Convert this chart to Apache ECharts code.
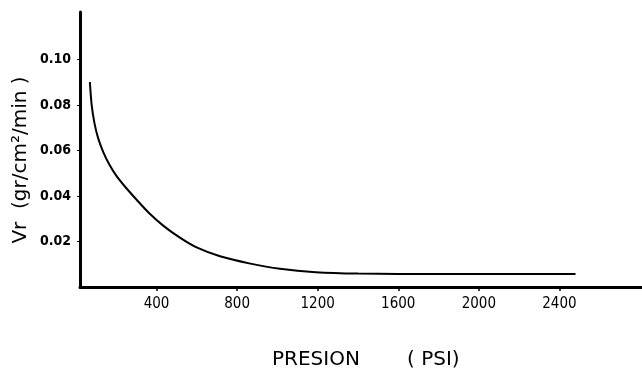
<!DOCTYPE html>
<html>
<head>
<meta charset="utf-8">
<script src="https://cdn.jsdelivr.net/npm/echarts@6/dist/echarts.min.js"></script>
<style>
  html, body { margin: 0; padding: 0; background: #fff; }
  #chart { width: 642px; height: 373px; }
</style>
</head>
<body>
<div id="chart"></div>
<script>
// presion (PSI) y velocidad de reaccion
const presion = [69, 78, 92, 110, 135, 165, 200, 245, 300, 360, 433, 516, 599, 715, 860, 1013, 1190, 1400, 1800, 2200, 2480];
const vr = [0.0902, 0.0800, 0.0720, 0.0655, 0.0595, 0.0540, 0.0490, 0.0440, 0.0385, 0.0328, 0.0270, 0.0217, 0.0174, 0.0135, 0.0104, 0.0080, 0.0065, 0.0059, 0.0057, 0.0057, 0.0057];
const ticksX = [400, 800, 1200, 1600, 2000, 2400];
const ticksY = [0.02, 0.04, 0.06, 0.08, 0.10];

const puntos = presion.map((p, i) => [p, vr[i]]);

var dom = document.getElementById("chart");
var myChart = echarts.init(dom, null, { renderer: "canvas" });

var option = {
  animation: false,
  backgroundColor: "#fff",
  grid: { left: 80, right: 0, top: 12, bottom: 86 },
  xAxis: {
    type: "value",
    min: 20,
    max: 2810,
    axisLine: { lineStyle: { color: "#000", width: 3 } },
    axisTick: { show: true, customValues: ticksX, length: 4, lineStyle: { color: "#000", width: 1.5 } },
    axisLabel: {
      customValues: ticksX,
      color: "#000",
      fontFamily: "DejaVu Sans Condensed, DejaVu Sans",
      fontSize: 15,
      margin: 10,
      formatter: (v) => String(v)
    },
    splitLine: { show: false }
  },
  yAxis: {
    type: "value",
    min: 0,
    max: 0.121,
    axisLine: { show: true, lineStyle: { color: "#000", width: 3 } },
    axisTick: { show: true, customValues: ticksY, length: 3, lineStyle: { color: "#000", width: 1 } },
    axisLabel: {
      customValues: ticksY,
      color: "#000",
      fontFamily: "DejaVu Sans Condensed, DejaVu Sans",
      fontWeight: "bold",
      fontSize: 14,
      margin: 9,
      formatter: (v) => v.toFixed(2)
    },
    splitLine: { show: false }
  },
  series: [
    {
      type: "line",
      data: puntos,
      smooth: 0.3,
      showSymbol: false,
      lineStyle: { color: "#000", width: 2 }
    }
  ],
  graphic: [
    {
      type: "text",
      x: 21,
      y: 160,
      rotation: Math.PI / 2,
      style: {
        text: "Vr  (gr/cm²/min )",
        fill: "#000",
        font: "20px 'DejaVu Sans'",
        align: "center",
        verticalAlign: "middle"
      }
    },
    {
      type: "text",
      x: 272,
      y: 360,
      style: {
        text: "PRESION",
        fill: "#000",
        font: "20px 'DejaVu Sans'",
        align: "left",
        verticalAlign: "middle"
      }
    },
    {
      type: "text",
      x: 407,
      y: 360,
      style: {
        text: "( PSI)",
        fill: "#000",
        font: "20px 'DejaVu Sans'",
        align: "left",
        verticalAlign: "middle"
      }
    }
  ]
};

myChart.setOption(option);
</script>
</body>
</html>
